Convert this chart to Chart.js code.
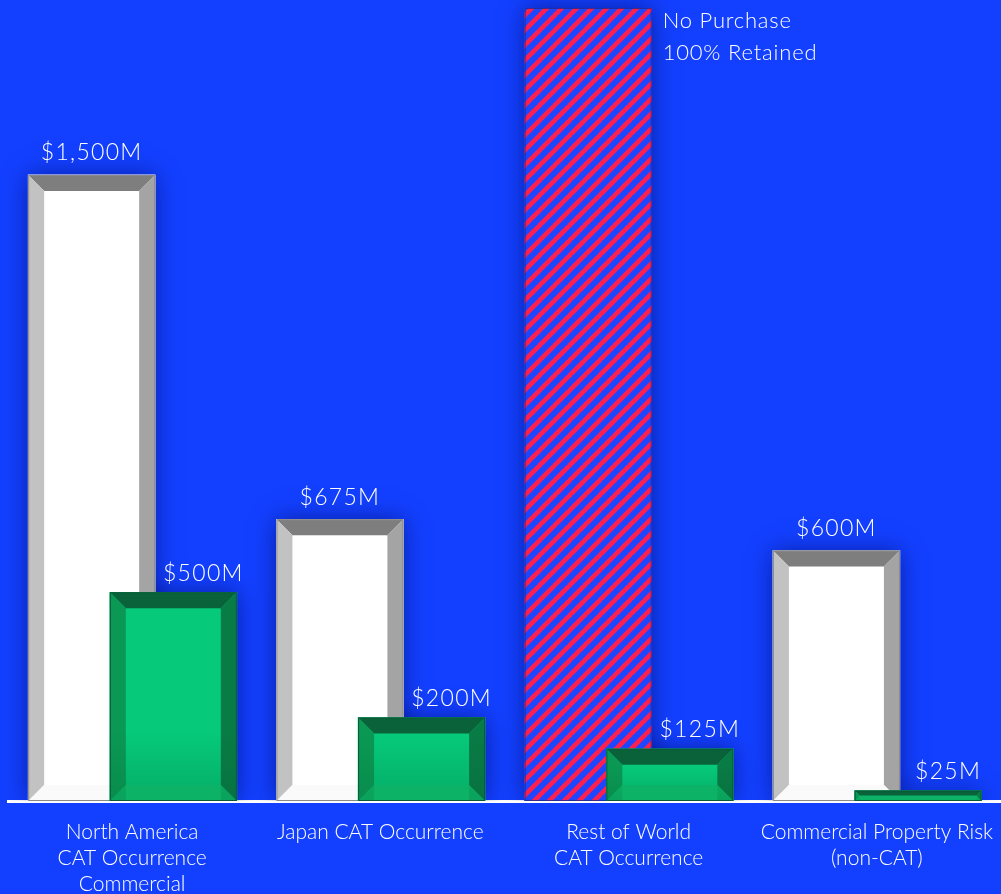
<!DOCTYPE html>
<html>
<head>
<meta charset="utf-8">
<script src="https://cdn.jsdelivr.net/npm/chart.js@4.4.1/dist/chart.umd.min.js"></script>
<style>
  html, body { margin: 0; padding: 0; background: #1340FF; }
  canvas { display: block; }
</style>
</head>
<body>
<canvas id="chart" width="1001" height="894"></canvas>
<script>
// Reinsurance programme: limit purchased vs. retention per line of business ($M)
const categories = [
  ['North America', 'CAT Occurrence', 'Commercial'],
  ['Japan CAT Occurrence'],
  ['Rest of World', 'CAT Occurrence'],
  ['Commercial Property Risk', '(non-CAT)']
];
const limitValues = [1500, 675, null, 600];
const retentionValues = [500, 200, 125, 25];
const noPurchaseValues = [null, null, 1900, null];
const noPurchaseNote = ['No Purchase', '100% Retained'];

const FONT = 'Lato, "Open Sans", sans-serif';
const BG = '#1340FF';
const LEFT_SHIFT = -0.163;
const RIGHT_SHIFT = 0.166;

function toPoints(values, shift) {
  const pts = [];
  values.forEach((v, i) => { if (v !== null) pts.push({ x: i + shift, y: v }); });
  return pts;
}
function money(v) { return '$' + v.toLocaleString('en-US') + 'M'; }

// diagonal red/blue stripe fill
function stripePattern() {
  const s = 15;
  const c = document.createElement('canvas');
  c.width = s; c.height = s;
  const g = c.getContext('2d');
  g.fillStyle = '#1F46FF';
  g.fillRect(0, 0, s, s);
  g.strokeStyle = '#FF1F4E';
  g.lineWidth = 4.6;
  g.beginPath();
  for (let k = -1; k <= 1; k++) {
    g.moveTo(k * s - 1, s + 1);
    g.lineTo(k * s + s + 1, -1);
  }
  g.stroke();
  return document.getElementById('chart').getContext('2d').createPattern(c, 'repeat');
}

const bevels = {
  limit: { top: '#7E7E7E', left: '#C2C2C2', right: '#A4A4A4', bottom: '#FAFAFA', edge: '#8A8A8A', shade: null },
  retention: { top: '#0A623B', left: '#0A9854', right: '#097B45', bottom: '#0CB266', edge: '#0A5A36', shade: 'rgba(0,70,35,0.22)' }
};

function poly(ctx, pts, color) {
  ctx.beginPath();
  ctx.moveTo(pts[0][0], pts[0][1]);
  for (let i = 1; i < pts.length; i++) ctx.lineTo(pts[i][0], pts[i][1]);
  ctx.closePath();
  ctx.fillStyle = color;
  ctx.fill();
}

const bevelPlugin = {
  id: 'bevel',
  beforeDatasetsDraw(chart) {
    // soft halo behind every bar
    const ctx = chart.ctx;
    ctx.save();
    ctx.beginPath();
    ctx.rect(0, 0, chart.width, chart.chartArea.bottom);
    ctx.clip();
    chart.data.datasets.forEach((ds, di) => {
      chart.getDatasetMeta(di).data.forEach(el => {
        const p = el.getProps(['x', 'y', 'base', 'width'], true);
        ctx.save();
        ctx.shadowColor = 'rgba(0,8,90,0.55)';
        ctx.shadowBlur = 22;
        ctx.fillStyle = BG;
        ctx.fillRect(p.x - p.width / 2, p.y, p.width, p.base - p.y);
        ctx.restore();
      });
    });
    ctx.restore();
  },
  afterDatasetDraw(chart, args) {
    const ds = chart.data.datasets[args.index];
    const style = bevels[ds.kind];
    const ctx = chart.ctx;
    args.meta.data.forEach(el => {
      const p = el.getProps(['x', 'y', 'base', 'width'], true);
      const L = p.x - p.width / 2, R = p.x + p.width / 2, T = p.y, B = p.base;
      ctx.save();
      if (!style) {
        ctx.strokeStyle = 'rgba(30,40,140,0.8)';
        ctx.lineWidth = 1;
        ctx.strokeRect(L + 0.5, T + 0.5, p.width - 1, B - T - 1);
        ctx.restore();
        return;
      }
      const b = Math.min(16, (B - T) / 2);
      if (style.shade) {
        const gy = Math.max(T + b, B - 70);
        const gr = ctx.createLinearGradient(0, gy, 0, B);
        gr.addColorStop(0, 'rgba(0,70,35,0)');
        gr.addColorStop(1, style.shade);
        ctx.fillStyle = gr;
        ctx.fillRect(L, gy, R - L, B - gy);
      }
      poly(ctx, [[L, T], [R, T], [R - b, T + b], [L + b, T + b]], style.top);
      poly(ctx, [[L, T], [L + b, T + b], [L + b, B - b], [L, B]], style.left);
      poly(ctx, [[R, T], [R, B], [R - b, B - b], [R - b, T + b]], style.right);
      poly(ctx, [[L, B], [L + b, B - b], [R - b, B - b], [R, B]], style.bottom);
      if (style.shade) {
        const gy = Math.max(T + b, B - 70);
        const gr = ctx.createLinearGradient(0, gy, 0, B);
        gr.addColorStop(0, 'rgba(0,70,35,0)');
        gr.addColorStop(1, 'rgba(0,70,35,0.15)');
        ctx.fillStyle = gr;
        ctx.fillRect(L, gy, b, B - gy);
        ctx.fillRect(R - b, gy, b, B - gy);
      }
      ctx.strokeStyle = style.edge;
      ctx.lineWidth = 1;
      ctx.strokeRect(L + 0.5, T + 0.5, p.width - 1, B - T - 1);
      ctx.restore();
    });
  }
};

const labelPlugin = {
  id: 'valueLabels',
  afterDatasetsDraw(chart) {
    const ctx = chart.ctx;
    ctx.save();
    ctx.fillStyle = '#FFFFFF';
    ctx.textBaseline = 'middle';
    chart.data.datasets.forEach((ds, di) => {
      chart.getDatasetMeta(di).data.forEach((el, j) => {
        const p = el.getProps(['x', 'y', 'width'], true);
        const v = ds.data[j].y;
        if (ds.kind === 'limit') {
          ctx.font = '300 23px ' + FONT;
          ctx.letterSpacing = '1.3px';
          ctx.textAlign = 'center';
          ctx.fillText(money(v), p.x, p.y - 22);
        } else if (ds.kind === 'retention') {
          ctx.font = '300 23px ' + FONT;
          ctx.letterSpacing = '1.3px';
          ctx.textAlign = 'center';
          ctx.fillText(money(v), p.x + 30, p.y - 19);
        } else {
          ctx.font = '300 22px ' + FONT;
          ctx.letterSpacing = '0.8px';
          ctx.textAlign = 'left';
          noPurchaseNote.forEach((line, k) => {
            ctx.fillText(line, p.x + p.width / 2 + 11, p.y + 13 + k * 32);
          });
        }
      });
    });
    ctx.restore();
  }
};

new Chart(document.getElementById('chart'), {
  type: 'bar',
  data: {
    datasets: [
      {
        kind: 'limit',
        data: toPoints(limitValues, LEFT_SHIFT),
        backgroundColor: '#FFFFFF',
        order: 2
      },
      {
        kind: 'none',
        data: toPoints(noPurchaseValues, LEFT_SHIFT),
        backgroundColor: stripePattern(),
        order: 2
      },
      {
        kind: 'retention',
        data: toPoints(retentionValues, RIGHT_SHIFT),
        backgroundColor: '#06CA7A',
        order: 0
      }
    ]
  },
  options: {
    responsive: false,
    devicePixelRatio: 1,
    animation: false,
    grouped: false,
    barThickness: 127,
    layout: { padding: { left: 8, top: 8, right: 0, bottom: 0 } },
    plugins: { legend: { display: false }, tooltip: { enabled: false } },
    scales: {
      x: {
        type: 'linear',
        min: -0.5,
        max: 3.5,
        offset: false,
        z: 1,
        grid: { display: false, drawTicks: false, offset: false },
        border: { display: true, color: '#FFFFFF', width: 3 },
        afterBuildTicks: s => { s.ticks = categories.map((_, i) => ({ value: i })); },
        afterFit: s => { s.height = 93; s.paddingLeft = 0; s.paddingRight = 0; },
        ticks: {
          color: '#FFFFFF',
          padding: 18,
          autoSkip: false,
          maxRotation: 0,
          font: { family: FONT, size: 21, weight: '300', lineHeight: 1.25 },
          callback: v => categories[v]
        }
      },
      y: { display: false, min: 0, max: 1900 }
    }
  },
  plugins: [bevelPlugin, labelPlugin]
});
</script>
</body>
</html>
